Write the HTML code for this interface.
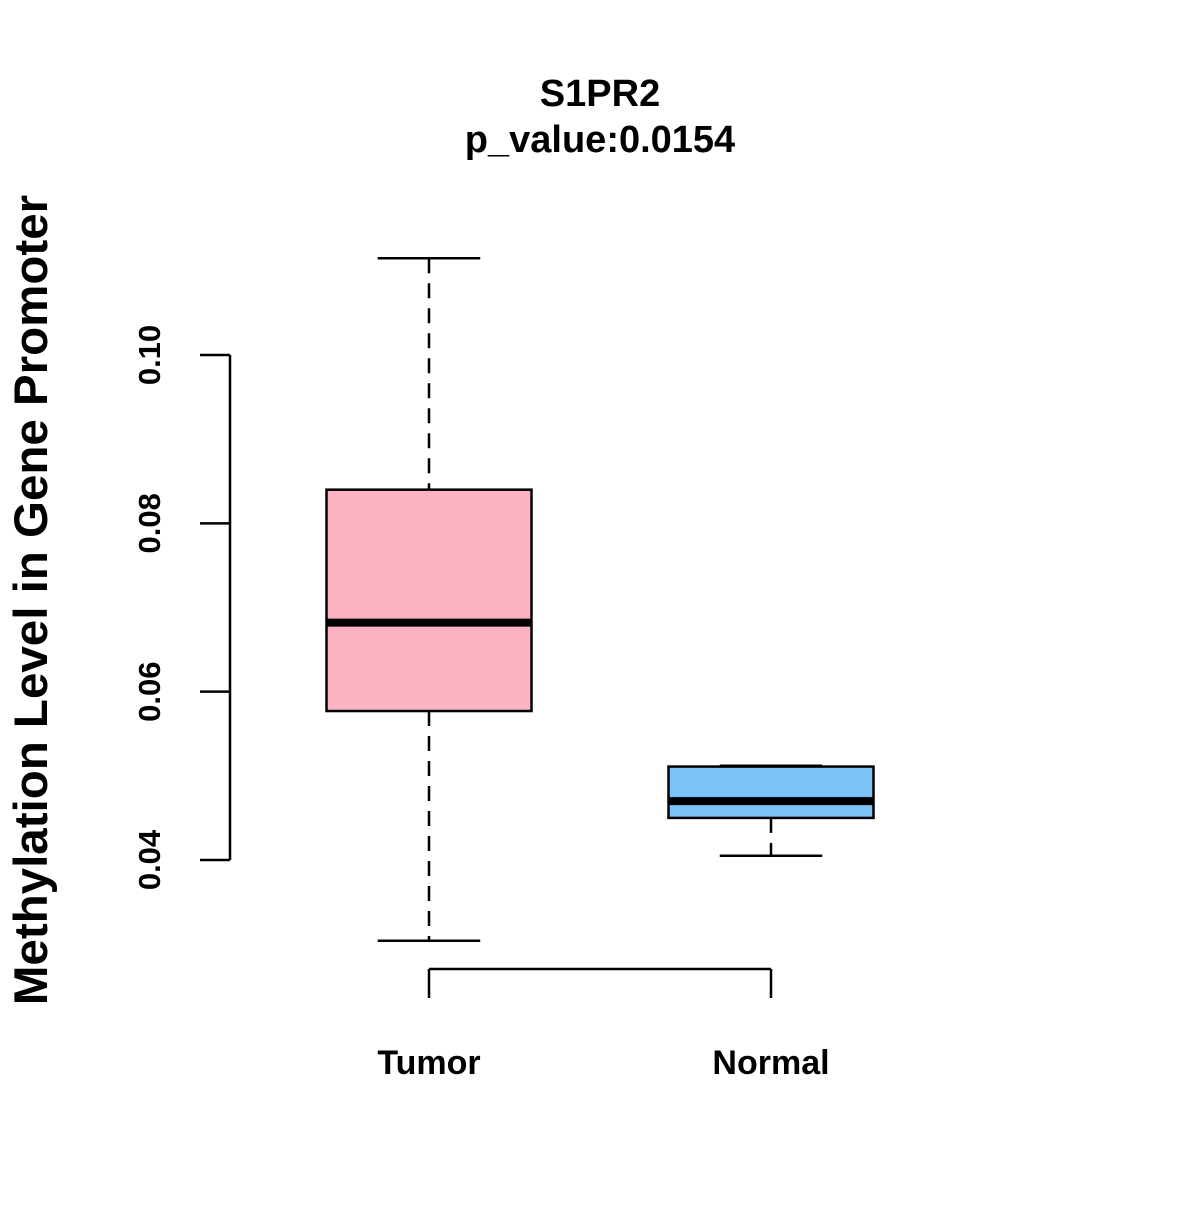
<!DOCTYPE html>
<html><head><meta charset="utf-8"><style>
body{margin:0;background:#fff}
text{font-family:"Liberation Sans",Arial,sans-serif;font-weight:bold;fill:#000}
</style></head><body>
<svg id="chart" width="1200" height="1200" xmlns="http://www.w3.org/2000/svg">
<rect width="1200" height="1200" fill="#fff"/>
<text x="600" y="106" font-size="38" text-anchor="middle">S1PR2</text>
<text x="600" y="152" font-size="38" text-anchor="middle">p_value:0.0154</text>
<text transform="translate(47,600) rotate(-90)" font-size="47.5" text-anchor="middle">Methylation Level in Gene Promoter</text>
<g id="plot"></g>
</svg>
<script>
const categories=["Tumor","Normal"];
const whiskerLow=[0.0304,0.0405];
const q1=[0.0577,0.0450];
const medians=[0.0682,0.0470];
const q3=[0.0840,0.0511];
const whiskerHigh=[0.1115,0.0512];
const fills=["#FDB2C3","#7BC3F6"];
const yTicks=[0.04,0.06,0.08,0.10];
const yTickLabels=["0.04","0.06","0.08","0.10"];

const NS="http://www.w3.org/2000/svg";
const g=document.getElementById("plot");
function y(v){return 860-(v-0.04)*(505/0.06);}
function x(i){return 429+i*342;}
function el(tag,attrs){const e=document.createElementNS(NS,tag);for(const k in attrs)e.setAttribute(k,attrs[k]);g.appendChild(e);return e;}
const sw=2.5;
let ax=el("line",{x1:230,x2:230,y1:y(yTicks[0]),y2:y(yTicks[yTicks.length-1]),stroke:"#000","stroke-width":sw});


yTicks.forEach((t,i)=>{
  const l=el("line",{x1:200,x2:230,y1:y(t),y2:y(t),stroke:"#000","stroke-width":sw});
  
  
  const tx=el("text",{transform:`translate(160,${y(t)}) rotate(-90)`,"font-size":31,"text-anchor":"middle"});
  tx.textContent=yTickLabels[i];
  
  
});
let xa=el("line",{x1:x(0),x2:x(categories.length-1),y1:969,y2:969,stroke:"#000","stroke-width":sw});


categories.forEach((c,i)=>{
  const l=el("line",{x1:x(i),x2:x(i),y1:969,y2:998,stroke:"#000","stroke-width":sw});
  
  
  const tx=el("text",{x:x(i),y:1074,"font-size":34,"text-anchor":"middle"});
  tx.textContent=c;
  
  
  const hw=102.5;
  const w1=el("line",{x1:x(i),x2:x(i),y1:y(whiskerHigh[i]),y2:y(q3[i]),stroke:"#000","stroke-width":sw,"stroke-dasharray":"15 10"});
  
  
  const w2=el("line",{x1:x(i),x2:x(i),y1:y(q1[i]),y2:y(whiskerLow[i]),stroke:"#000","stroke-width":sw,"stroke-dasharray":"15 10"});
  
  
  const c1=el("line",{x1:x(i)-hw/2,x2:x(i)+hw/2,y1:y(whiskerHigh[i]),y2:y(whiskerHigh[i]),stroke:"#000","stroke-width":sw});
  
  
  const c2=el("line",{x1:x(i)-hw/2,x2:x(i)+hw/2,y1:y(whiskerLow[i]),y2:y(whiskerLow[i]),stroke:"#000","stroke-width":sw});
  
  
  const b=el("rect",{x:x(i)-hw,y:y(q3[i]),width:2*hw,height:y(q1[i])-y(q3[i]),fill:fills[i],stroke:"#000","stroke-width":sw});
  
  
  const m=el("line",{x1:x(i)-hw,x2:x(i)+hw,y1:y(medians[i]),y2:y(medians[i]),stroke:"#000","stroke-width":8});
  
  
});
</script>
</body></html>
